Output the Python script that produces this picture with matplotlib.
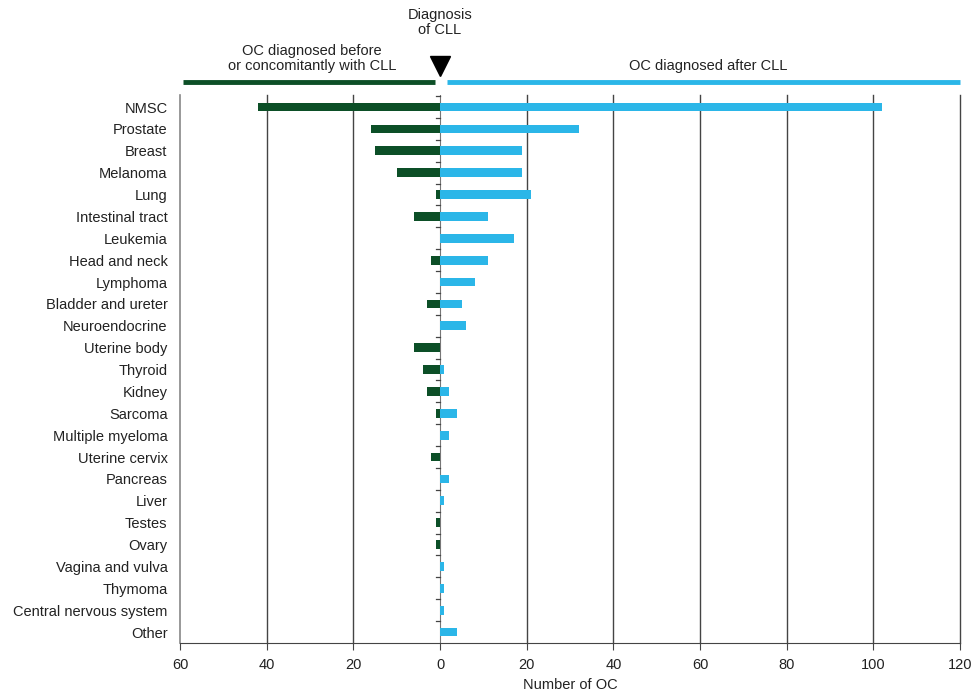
import matplotlib
matplotlib.use('Agg')
import matplotlib.pyplot as plt
import matplotlib.transforms as mtransforms
import numpy as np

plt.rcParams['font.family'] = ['Liberation Sans', 'DejaVu Sans']

categories = ['NMSC', 'Prostate', 'Breast', 'Melanoma', 'Lung', 'Intestinal tract',
              'Leukemia', 'Head and neck', 'Lymphoma', 'Bladder and ureter',
              'Neuroendocrine', 'Uterine body', 'Thyroid', 'Kidney', 'Sarcoma',
              'Multiple myeloma', 'Uterine cervix', 'Pancreas', 'Liver', 'Testes',
              'Ovary', 'Vagina and vulva', 'Thymoma', 'Central nervous system', 'Other']
before = [42, 16, 15, 10, 1, 6, 0, 2, 0, 3, 0, 6, 4, 3, 1, 0, 2, 0, 0, 1, 1, 0, 0, 0, 0]
after = [102, 32, 19, 19, 21, 11, 17, 11, 8, 5, 6, 0, 1, 2, 4, 2, 0, 2, 1, 0, 0, 1, 1, 1, 4]
xticks = [-60, -40, -20, 0, 20, 40, 60, 80, 100, 120]

green = '#0c4f27'
blue = '#2bb6e8'

fig = plt.figure(figsize=(9.71, 6.96), dpi=100)
ax = fig.add_axes([180/971, 1-643/696, 780/971, 548/696])

y = np.arange(len(categories))
ax.barh(y, [-v for v in before], height=0.4, color=green, zorder=3)
ax.barh(y, after, height=0.4, color=blue, zorder=3)

for xv in xticks:
    if xv == 0:
        ax.axvline(xv, color='#777777', lw=0.8, zorder=2)
    elif xv == -60:
        ax.axvline(xv, color='#888888', lw=1.2, zorder=1, clip_on=False)
    else:
        ax.axvline(xv, color='#444444', lw=1.0, zorder=1, clip_on=False)

# small ticks on the zero line between categories
for yy in np.arange(-0.5, len(categories) - 0.5, 1.0):
    ax.plot([-1.0, 0], [yy, yy], color='#444444', lw=0.9, zorder=2)

ax.set_xlim(-60, 120)
ax.set_ylim(len(categories) - 0.5, -0.55)
ax.set_xticks(xticks)
ax.set_xticklabels([str(abs(v)) for v in xticks], fontsize=10.5, color='#222222')
ax.set_yticks(y)
ax.set_yticklabels(categories, fontsize=10.5, color='#222222')
ax.tick_params(axis='y', length=0, pad=9)
ax.tick_params(axis='x', length=5, color='#444444', pad=6)
for s in ['top', 'right', 'left']:
    ax.spines[s].set_visible(False)
ax.spines['bottom'].set_color('#444444')
ax.set_xlabel('Number of OC', fontsize=10.5, color='#222222', labelpad=4)

# header above the plot
tr = mtransforms.blended_transform_factory(ax.transData, ax.transAxes)
ax.plot([-59.3, -1.2], [1.0237, 1.0237], color=green, lw=3.5, transform=tr,
        clip_on=False, solid_capstyle='butt')
ax.plot([1.6, 120], [1.0237, 1.0237], color=blue, lw=3.5, transform=tr,
        clip_on=False, solid_capstyle='butt')
ax.plot([0], [1.053], marker='v', markersize=15, color='black', transform=tr,
        clip_on=False)
ax.text(0, 1.105, 'Diagnosis\nof CLL', transform=tr, ha='center', va='bottom',
        fontsize=10.5, color='#222222', linespacing=1.1)
ax.text(-29.5, 1.04, 'OC diagnosed before\nor concomitantly with CLL', transform=tr,
        ha='center', va='bottom', fontsize=10.5, color='#222222', linespacing=1.1)
ax.text(62, 1.04, 'OC diagnosed after CLL', transform=tr,
        ha='center', va='bottom', fontsize=10.5, color='#222222')

fig.savefig('out.png', dpi=100)
